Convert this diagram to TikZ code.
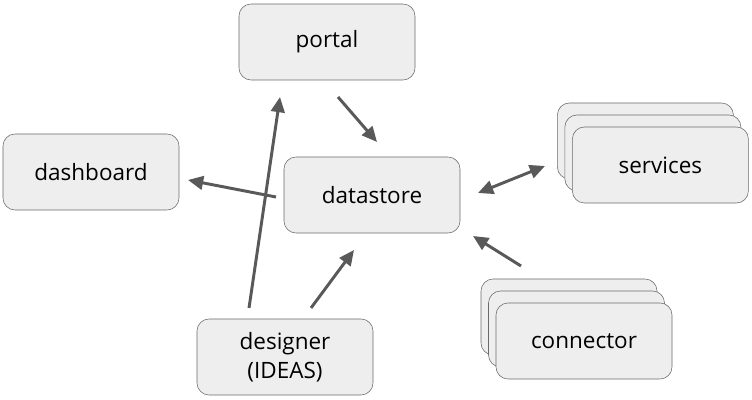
\documentclass[tikz,border=0pt]{standalone}
\usepackage{fontspec}
\setmainfont{Open Sans}
\usetikzlibrary{arrows.meta}

\definecolor{boxfill}{HTML}{EEEEEE}
\definecolor{boxline}{HTML}{6A6A6A}
\definecolor{arrowgray}{HTML}{595959}

\begin{document}
\begin{tikzpicture}[> = {Triangle[length = 3.8mm, width = 3.4mm]},
	box/.style = {draw = boxline, fill = boxfill, rounded corners = 0.3cm, minimum width = 4.4cm, minimum height = 1.9cm, inner sep = 0pt, align = center, font = \fontsize{16}{21}\selectfont},
	flow/.style = {arrowgray, line width = 2.1pt}]

	\useasboundingbox (0, 0) rectangle (18.8, 10);

	% Single boxes

	\node [box] (portal) at (8.175, 8.95) {portal};
	\node [box] (dashboard) at (2.275, 5.7) {dashboard};
	\node [box] (datastore) at (9.3, 5.125) {datastore};
	\node [box] (designer) at (7.125, 1.075) {designer\\(IDEAS)};

	% Stacked boxes

	\node [box] (services3) at (16.135, 6.475) {};
	\node [box] (services2) at (16.3225, 6.175) {};
	\node [box] (services) at (16.51, 5.875) {services};

	\node [box] (connector3) at (14.225, 2.075) {};
	\node [box] (connector2) at (14.4125, 1.775) {};
	\node [box] (connector) at (14.6, 1.475) {connector};

	% Arrow ends

	\coordinate (portal out) at (8.45, 7.575);
	\coordinate (datastore in top) at (9.425, 6.45);
	\coordinate (designer out left) at (6.225, 2.3);
	\coordinate (portal in) at (7.0, 7.575);
	\coordinate (datastore out left) at (6.9, 5.075);
	\coordinate (dashboard in) at (4.7, 5.5);
	\coordinate (designer out right) at (7.775, 2.3);
	\coordinate (datastore in bottom) at (8.85, 3.75);
	\coordinate (datastore right) at (11.95, 5.175);
	\coordinate (services left) at (13.625, 5.85);
	\coordinate (connector out) at (13.025, 3.35);
	\coordinate (datastore in right) at (11.825, 4.1);

	% Arrows

	\draw [flow, ->] (portal out) -- (datastore in top);
	\draw [flow, ->] (designer out left) -- (portal in);
	\draw [flow, ->] (datastore out left) -- (dashboard in);
	\draw [flow, ->] (designer out right) -- (datastore in bottom);
	\draw [flow, <->] (datastore right) -- (services left);
	\draw [flow, ->] (connector out) -- (datastore in right);

\end{tikzpicture}
\end{document}
